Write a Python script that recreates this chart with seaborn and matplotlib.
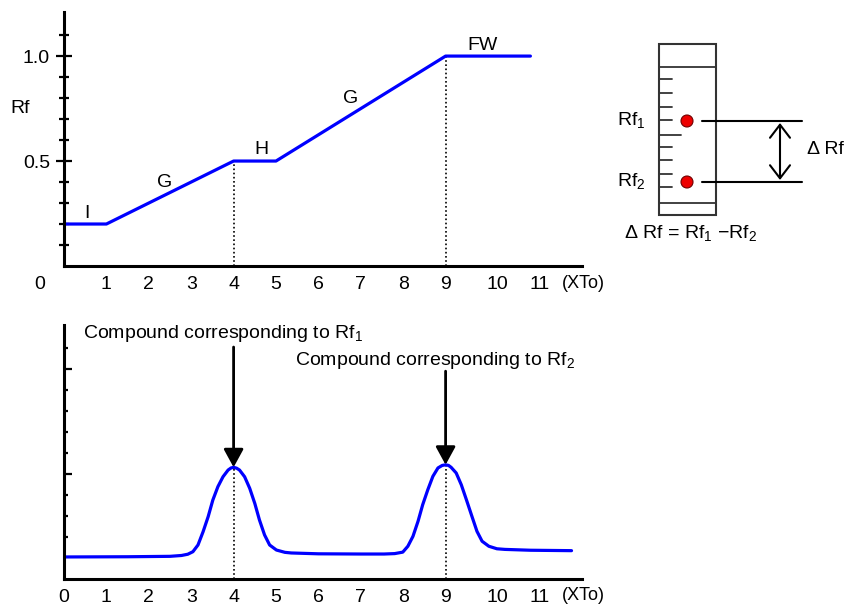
import seaborn as sns
import matplotlib.pyplot as plt
from matplotlib.patches import Rectangle, Circle
from matplotlib.transforms import ScaledTranslation

# gradient program: Rf vs column volumes (XTo)
xto_steps = [0, 1, 4, 5, 9, 11]
rf_steps = [0.2, 0.2, 0.5, 0.5, 1.0, 1.0]
step_names = ['I', 'G', 'H', 'G', 'FW']

# chromatogram
chrom_x = [0, 1.5, 2.5, 2.77, 2.92, 3.04, 3.16, 3.28, 3.40, 3.51, 3.63, 3.75,
           3.87, 3.94, 4.0, 4.07, 4.14, 4.26, 4.38, 4.50, 4.61, 4.73, 4.85,
           5.01, 5.21, 5.36, 6.0, 7.0, 7.55, 7.80, 7.99, 8.11, 8.23, 8.35,
           8.46, 8.58, 8.70, 8.82, 8.92, 9.0, 9.07, 9.13, 9.25, 9.37, 9.49,
           9.62, 9.74, 9.86, 10.02, 10.21, 10.40, 11.0, 11.97]
chrom_y = [0.105, 0.106, 0.108, 0.112, 0.118, 0.130, 0.162, 0.225, 0.297,
           0.376, 0.440, 0.487, 0.519, 0.529, 0.532, 0.528, 0.519, 0.487,
           0.432, 0.360, 0.281, 0.210, 0.162, 0.138, 0.127, 0.124, 0.120,
           0.119, 0.119, 0.121, 0.128, 0.156, 0.203, 0.275, 0.354, 0.425,
           0.489, 0.529, 0.541, 0.544, 0.541, 0.532, 0.505, 0.449, 0.378,
           0.299, 0.227, 0.180, 0.156, 0.144, 0.141, 0.137, 0.135]
peak_x = [4.0, 9.0]

xticks = list(range(12))
xtick_labels = [str(i) for i in xticks]

sns.set_theme(style='white')
plt.rcParams['font.family'] = ['Liberation Sans', 'DejaVu Sans']
plt.rcParams['mathtext.fontset'] = 'custom'
plt.rcParams['mathtext.rm'] = 'Liberation Sans'
plt.rcParams['text.color'] = 'black'

W, H = 846, 606
fig = plt.figure(figsize=(W / 100, H / 100), dpi=100)


def px_axes(left, top, right, bottom):
    return fig.add_axes([left / W, 1 - bottom / H, (right - left) / W, (bottom - top) / H])


ax_top = px_axes(64, 12, 582, 266)
ax_bot = px_axes(64, 325, 582, 579)
blue = '#0000ff'

for ax in (ax_top, ax_bot):
    ax.set_xlim(0, 12.217)
    ax.set_ylim(0, 1.21)
    for s in ('top', 'right'):
        ax.spines[s].set_visible(False)
    for s in ('left', 'bottom'):
        ax.spines[s].set_linewidth(2.2)
        ax.spines[s].set_color('black')
    ax.set_xticks(xticks)
    ax.set_xticklabels(xtick_labels)
    ax.tick_params(axis='x', length=0, pad=7, labelsize=14, labelcolor='black')
    ax.annotate('(XTo)', xy=(11.74, 0), xycoords=('data', 'axes fraction'),
                xytext=(0, -17), textcoords='offset pixels', ha='left', va='center',
                fontsize=13)
    # tick labels 10 and 11 sit a bit to the right in the original
    for lab in ax.get_xticklabels()[-2:]:
        lab.set_transform(lab.get_transform() + ScaledTranslation(0.09, 0, fig.dpi_scale_trans))
    ax.set_facecolor('none')

# ---- top: gradient ----
sns.lineplot(x=xto_steps, y=rf_steps, ax=ax_top, color=blue, lw=2.3, estimator=None)
ax_top.set_yticks([0.5, 1.0])
ax_top.set_yticklabels(['0.5', '1.0'])
ax_top.set_yticks([0.1, 0.2, 0.3, 0.4, 0.6, 0.7, 0.8, 0.9, 1.1], minor=True)
ax_top.tick_params(axis='y', which='major', direction='inout', length=12, width=1.6,
                   pad=4, labelsize=14, labelcolor='black', color='black', left=True)
ax_top.tick_params(axis='y', which='minor', direction='inout', length=6.5, width=1.6,
                   color='black', left=True)
lab0 = ax_top.get_xticklabels()[0]
lab0.set_transform(lab0.get_transform() + ScaledTranslation(-0.24, 0, fig.dpi_scale_trans))

for xv in (xto_steps[2], xto_steps[4]):
    ax_top.plot([xv, xv], [0, rf_steps[xto_steps.index(xv)]], color='black',
                lw=1.2, ls=(0, (1, 1.5)), zorder=1)

for name, (tx, ty) in zip(step_names, [(0.54, 0.252), (2.38, 0.40), (4.65, 0.557),
                                       (6.75, 0.80), (9.88, 1.052)]):
    ax_top.text(tx, ty, name, ha='center', va='center', fontsize=14)
ax_top.text(-1.04, 0.752, 'Rf', ha='center', va='center', fontsize=14, clip_on=False)

# ---- bottom: chromatogram ----
sns.lineplot(x=chrom_x, y=chrom_y, ax=ax_bot, color=blue, lw=2.3, estimator=None)
ax_bot.set_yticks([0.5, 1.0])
ax_bot.set_yticklabels([])
ax_bot.set_yticks([0.2, 0.3, 0.4, 0.6, 0.7, 0.8, 0.9, 1.1], minor=True)
ax_bot.tick_params(axis='y', which='major', direction='in', length=6, width=1.6,
                   color='black', left=True)
ax_bot.tick_params(axis='y', which='minor', direction='in', length=2.8, width=1.6,
                   color='black', left=True)

texts = [r'Compound corresponding to $\mathrm{Rf}_\mathrm{1}$',
         r'Compound corresponding to $\mathrm{Rf}_\mathrm{2}$']
for px, txt, (tx, ty), y0 in zip(peak_x, texts, [(0.45, 1.171), (5.45, 1.043)], [1.105, 0.99]):
    py = chrom_y[chrom_x.index(px)]
    ax_bot.plot([px, px], [0, py], color='black', lw=1.2, ls=(0, (1, 1.5)), zorder=1)
    ax_bot.annotate('', xy=(px, py), xytext=(px, y0),
                    arrowprops=dict(arrowstyle='-|>,head_length=0.55,head_width=0.3',
                                    mutation_scale=20, color='black', lw=2,
                                    shrinkA=0, shrinkB=0))
    ax_bot.text(tx, ty, txt, ha='left', va='center', fontsize=14)

# ---- TLC plate sketch ----
ax_p = fig.add_axes([0, 0, 1, 1])
ax_p.set_xlim(0, W)
ax_p.set_ylim(H, 0)
ax_p.axis('off')
ax_p.add_patch(Rectangle((659, 44), 57, 171, fill=False, edgecolor='#333333', lw=1.5))
for yy in (67, 203):
    ax_p.plot([659, 716], [yy, yy], color='#333333', lw=1.3)
for yy in (79, 93, 107, 120, 147, 160, 174, 187):
    ax_p.plot([659, 672], [yy, yy], color='#333333', lw=1.3)
ax_p.plot([659, 681], [135, 135], color='#333333', lw=1.3)
for yy in (121, 182):
    ax_p.add_patch(Circle((687, yy), 6, facecolor='#ee0000', edgecolor='#700000', lw=0.8))
    ax_p.plot([702, 802], [yy, yy], color='black', lw=1.5)
ax_p.annotate('', xy=(780, 123), xytext=(780, 180),
              arrowprops=dict(arrowstyle='<->,head_length=0.47,head_width=0.36',
                              mutation_scale=20, color='black', lw=1.5,
                              shrinkA=0, shrinkB=0))
ax_p.text(617, 121, r'$\mathrm{Rf}_\mathrm{1}$', ha='left', va='center', fontsize=14)
ax_p.text(617, 182, r'$\mathrm{Rf}_\mathrm{2}$', ha='left', va='center', fontsize=14)
ax_p.text(807, 150, 'Δ Rf', ha='left', va='center', fontsize=14)
ax_p.text(624, 234, r'Δ Rf = $\mathrm{Rf}_\mathrm{1}$ −$\mathrm{Rf}_\mathrm{2}$',
          ha='left', va='center', fontsize=14)

fig.savefig('out.png', dpi=100)
